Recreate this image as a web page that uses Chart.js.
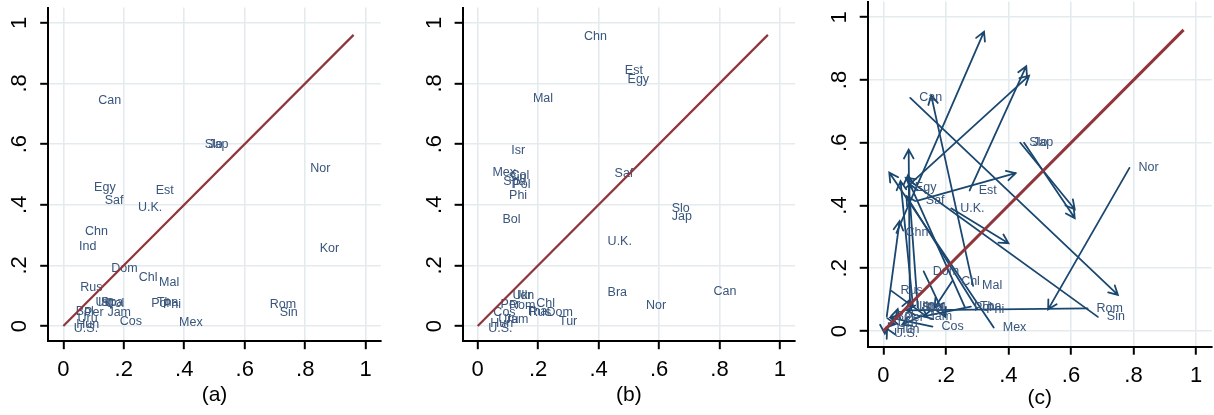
<!DOCTYPE html>
<html>
<head>
<meta charset="utf-8">
<script src="https://cdn.jsdelivr.net/npm/chart.js@4"></script>
<style>
  body { margin: 0; background: #fff; }
  #wrap { position: relative; width: 1214px; height: 415px; overflow: hidden; }
  canvas { position: absolute; top: 0; }
</style>
</head>
<body>
<div id="wrap">
  <canvas id="panelA" width="400" height="415" style="left:0px"></canvas>
  <canvas id="panelB" width="404" height="415" style="left:400px"></canvas>
  <canvas id="panelC" width="410" height="415" style="left:804px"></canvas>
</div>
<script>
// Axis ticks
const tickValues = [0, 0.2, 0.4, 0.6, 0.8, 1];

// Panel (a)
const namesA = ['Can', 'Slo', 'Jap', 'Nor', 'Egy', 'Saf', 'Est', 'U.K.', 'Chn', 'Ind', 'Kor', 'Dom', 'Chl', 'Mal', 'Rus',
    'Ukr', 'Isr', 'Spa', 'Col', 'Pol', 'Tha', 'Phi', 'Rom', 'Sin', 'Jam', 'Cos', 'Mex', 'Bol', 'Per', 'Uru', 'Hun', 'U.S.'];
const xA = [0.086, 0.438, 0.450, 0.787, 0.072, 0.107, 0.276, 0.217, 0.042, 0.022, 0.818, 0.129, 0.220, 0.287, 0.026,
    0.077, 0.085, 0.095, 0.110, 0.261, 0.280, 0.300, 0.653, 0.686, 0.116, 0.157, 0.353, 0.011, 0.039, 0.017, 0.013, 0.005];
const yA = [0.743, 0.600, 0.600, 0.520, 0.456, 0.415, 0.448, 0.391, 0.313, 0.261, 0.256, 0.190, 0.159, 0.144, 0.128,
    0.079, 0.077, 0.076, 0.075, 0.075, 0.078, 0.070, 0.072, 0.045, 0.045, 0.014, 0.011, 0.047, 0.043, 0.025, 0.005, -0.007];

// Panel (b)
const namesB = ['Chn', 'Est', 'Egy', 'Mal', 'Isr', 'Mex', 'Col', 'Sin', 'Spa', 'Pol', 'Phi', 'Bol', 'Saf', 'Slo', 'Jap',
    'U.K.', 'Bra', 'Can', 'Nor', 'Tur', 'Dom', 'Chl', 'Tha', 'Rus', 'Rom', 'Per', 'Ukr', 'Idn', 'Cos', 'Jam', 'Uru', 'Hun', 'U.S.'];
const xB = [0.322, 0.457, 0.466, 0.153, 0.081, 0.019, 0.079, 0.072, 0.055, 0.085, 0.074, 0.052, 0.423, 0.612, 0.612,
    0.400, 0.400, 0.750, 0.527, 0.239, 0.198, 0.164, 0.129, 0.140, 0.074, 0.046, 0.085, 0.100, 0.022, 0.060, 0.038, 0.012, 0.005];
const yB = [0.954, 0.844, 0.814, 0.751, 0.578, 0.505, 0.497, 0.488, 0.478, 0.468, 0.430, 0.350, 0.503, 0.388, 0.360,
    0.280, 0.110, 0.115, 0.069, 0.014, 0.045, 0.074, 0.047, 0.045, 0.066, 0.070, 0.100, 0.100, 0.043, 0.020, 0.022, 0.007, -0.008];

// 45 degree reference line
const diagX = [0, 0.96];
const diagY = [0, 0.96];

const LABEL_FONT = "12.5px 'Liberation Sans', Arial, sans-serif";
const LABEL_COLOR = '#38557c';
const ARROW_COLOR = '#1a476f';
const LINE_COLOR = 'rgb(144, 53, 59)';
const TICK_FONT = { family: "'Liberation Sans', Arial, sans-serif", size: 22 };

function fmt(v) {
    if (v === 0) return '0';
    if (v === 1) return '1';
    return v.toFixed(1).replace('0.', '.');
}

// labels, arrows and rotated y tick labels
const stataPlugin = {
    id: 'stataPlugin',
    beforeDatasetsDraw(chart) {
        const ctx = chart.ctx;
        const xs = chart.scales.x;
        const ys = chart.scales.y;
        ctx.save();
        chart.data.datasets.forEach(ds => {
            if (!ds.ends) return;
            ctx.strokeStyle = ARROW_COLOR;
            ctx.lineWidth = 1.8;
            ctx.lineCap = 'round';
            ds.data.forEach((p, i) => {
                const x1 = xs.getPixelForValue(p.x), y1 = ys.getPixelForValue(p.y);
                const x2 = xs.getPixelForValue(ds.ends[i].x), y2 = ys.getPixelForValue(ds.ends[i].y);
                const ang = Math.atan2(y2 - y1, x2 - x1);
                const len = 10, spread = 0.5;
                ctx.beginPath();
                ctx.moveTo(x1, y1);
                ctx.lineTo(x2, y2);
                ctx.moveTo(x2 - len * Math.cos(ang - spread), y2 - len * Math.sin(ang - spread));
                ctx.lineTo(x2, y2);
                ctx.lineTo(x2 - len * Math.cos(ang + spread), y2 - len * Math.sin(ang + spread));
                ctx.stroke();
            });
        });
        chart.data.datasets.forEach((ds, di) => {
            if (!ds.names) return;
            const meta = chart.getDatasetMeta(di);
            ctx.font = LABEL_FONT;
            ctx.fillStyle = LABEL_COLOR;
            ctx.textAlign = 'left';
            ctx.textBaseline = 'middle';
            meta.data.forEach((pt, i) => ctx.fillText(ds.names[i], pt.x + 9, pt.y));
        });
        ctx.restore();
    },
    afterDraw(chart) {
        const ctx = chart.ctx;
        const ys = chart.scales.y;
        ctx.save();
        ctx.font = TICK_FONT.size + 'px ' + TICK_FONT.family;
        ctx.fillStyle = '#000';
        ctx.textAlign = 'center';
        ctx.textBaseline = 'middle';
        ys.ticks.forEach(t => {
            const py = ys.getPixelForValue(t.value);
            ctx.save();
            ctx.translate(chart.chartArea.left - 28, py);
            ctx.rotate(-Math.PI / 2);
            ctx.fillText(fmt(t.value), 0, 0);
            ctx.restore();
        });
        ctx.restore();
    }
};

function makePanel(id, title, geo, scatterDs) {
    const setTicks = scale => { scale.ticks = tickValues.map(v => ({ value: v })); };
    const grid = { color: '#e4ebee', lineWidth: 1.6, tickColor: '#000', tickWidth: 2, tickLength: 8 };
    const border = { display: true, color: '#000', width: 2 };
    new Chart(document.getElementById(id), {
        type: 'scatter',
        data: {
            datasets: [
                scatterDs,
                {
                    type: 'line',
                    data: diagX.map((x, i) => ({ x: x, y: diagY[i] })),
                    borderColor: LINE_COLOR,
                    borderWidth: geo.lineW,
                    pointRadius: 0,
                    fill: false
                }
            ]
        },
        options: {
            responsive: false,
            animation: false,
            devicePixelRatio: 1,
            layout: { padding: { left: 0, right: geo.padRight, top: geo.padTop, bottom: 0 } },
            plugins: { legend: { display: false }, tooltip: { enabled: false } },
            scales: {
                x: {
                    type: 'linear',
                    min: -0.05,
                    max: 1.05,
                    afterBuildTicks: setTicks,
                    afterFit: s => { s.height = geo.xH; s.paddingLeft = 0; s.paddingRight = 0; },
                    grid: grid,
                    border: border,
                    ticks: { color: '#000', font: TICK_FONT, padding: 8, maxRotation: 0, callback: v => fmt(v) },
                    title: { display: true, text: title, color: '#000', font: { family: TICK_FONT.family, size: 21 }, padding: { top: 0, bottom: geo.titlePad } }
                },
                y: {
                    type: 'linear',
                    min: -0.05,
                    max: 1.05,
                    afterBuildTicks: setTicks,
                    afterFit: s => { s.width = geo.yW; s.paddingTop = 0; s.paddingBottom = 0; },
                    grid: grid,
                    border: border,
                    ticks: { display: false }
                }
            }
        },
        plugins: [stataPlugin]
    });
}

// Panel (a)
makePanel('panelA', '(a)', { yW: 48.2, padRight: 19.2, padTop: 7.6, xH: 73.8, titlePad: 7, lineW: 2.2 }, {
    data: xA.map((x, i) => ({ x: x, y: yA[i] })),
    names: namesA,
    pointRadius: 0
});

// Panel (b)
makePanel('panelB', '(b)', { yW: 62.6, padRight: 8.9, padTop: 7.6, xH: 73.8, titlePad: 7, lineW: 2.2 }, {
    data: xB.map((x, i) => ({ x: x, y: yB[i] })),
    names: namesB,
    pointRadius: 0
});

// Panel (c): arrows from (a) position to (b) position
const both = namesA.filter(n => namesB.includes(n));
makePanel('panelC', '(c)', { yW: 63.7, padRight: 2.3, padTop: 1.6, xH: 68.3, titlePad: 4, lineW: 3 }, {
    data: both.map(n => ({ x: xA[namesA.indexOf(n)], y: yA[namesA.indexOf(n)] })),
    ends: both.map(n => ({ x: xB[namesB.indexOf(n)], y: yB[namesB.indexOf(n)] })),
    names: both,
    pointRadius: 0
});
</script>
</body>
</html>
